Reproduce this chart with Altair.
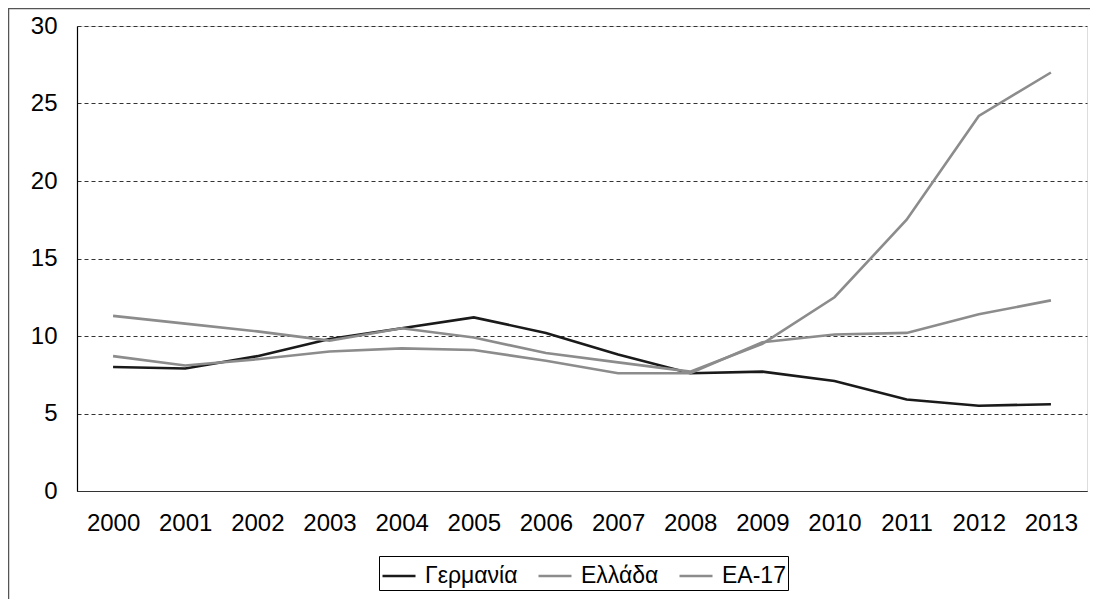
import altair as alt
import pandas as pd

years = [str(y) for y in range(2000, 2014)]
germany = [8.0, 7.9, 8.7, 9.8, 10.5, 11.2, 10.2, 8.8, 7.6, 7.7, 7.1, 5.9, 5.5, 5.6]
greece = [11.3, 10.8, 10.3, 9.7, 10.5, 9.9, 8.9, 8.3, 7.7, 9.5, 12.5, 17.5, 24.2, 27.0]
ea17 = [8.7, 8.1, 8.5, 9.0, 9.2, 9.1, 8.4, 7.6, 7.6, 9.6, 10.1, 10.2, 11.4, 12.3]

series_names = ["Γερμανία", "Ελλάδα", "EA-17"]
series_values = [germany, greece, ea17]
series_colors = ["#1a1a1a", "#8c8c8c", "#8c8c8c"]

rows = []
for i, (name, vals) in enumerate(zip(series_names, series_values)):
    for y, v in zip(years, vals):
        rows.append({"year": y, "value": v, "series": name, "order": i})
df = pd.DataFrame(rows)

FONT = "Liberation Sans"

lines = alt.Chart(df).mark_line(strokeWidth=2.6).encode(
    x=alt.X("year:O", sort=years, title=None,
            scale=alt.Scale(paddingInner=0, paddingOuter=0.5),
            axis=alt.Axis(labelAngle=0, ticks=False, labelPadding=20,
                          domainColor="#333333", domainWidth=1.2,
                          labelFontSize=24, labelFont=FONT, labelColor="#000000",
                          grid=False)),
    y=alt.Y("value:Q", title=None,
            scale=alt.Scale(domain=[0, 30], nice=False, zero=True),
            axis=alt.Axis(values=[0, 5, 10, 15, 20, 25, 30], ticks=False,
                          labelPadding=20, labelFontSize=24, labelFont=FONT,
                          labelColor="#000000", domainColor="#000000",
                          domainWidth=1.2, grid=True, gridColor="#333333",
                          gridDash=[4, 3], gridWidth=1)),
    color=alt.Color("series:N", sort=series_names,
                    scale=alt.Scale(domain=series_names, range=series_colors),
                    legend=alt.Legend(title=None, orient="none", direction="horizontal",
                                      legendX=302, legendY=530,
                                      symbolType="stroke", symbolSize=1089,
                                      symbolStrokeWidth=2.4, labelFontSize=23,
                                      labelFont=FONT, labelColor="#000000",
                                      labelOffset=8, columnPadding=15,
                                      padding=2, strokeColor="#000000",
                                      fillColor="#ffffff")),
    order=alt.Order("order:Q"),
    detail="series:N",
)

frame = alt.Chart(alt.Data(values=[{"a": 1}])).mark_rect(
    fill=None, stroke="#555555", strokeWidth=1.5, clip=False
).encode(
    x=alt.value(-68.5), x2=alt.value(2000),
    y=alt.value(-17.5), y2=alt.value(2000),
)

chart = alt.layer(frame, lines).properties(
    width=1010, height=465,
    autosize=alt.AutoSizeParams(type="none"),
    padding={"left": 69, "top": 18, "right": 3, "bottom": 108},
).configure_view(stroke=None).configure(background="#ffffff")

chart.save("out.html", embed_options={"renderer": "svg", "actions": False})
